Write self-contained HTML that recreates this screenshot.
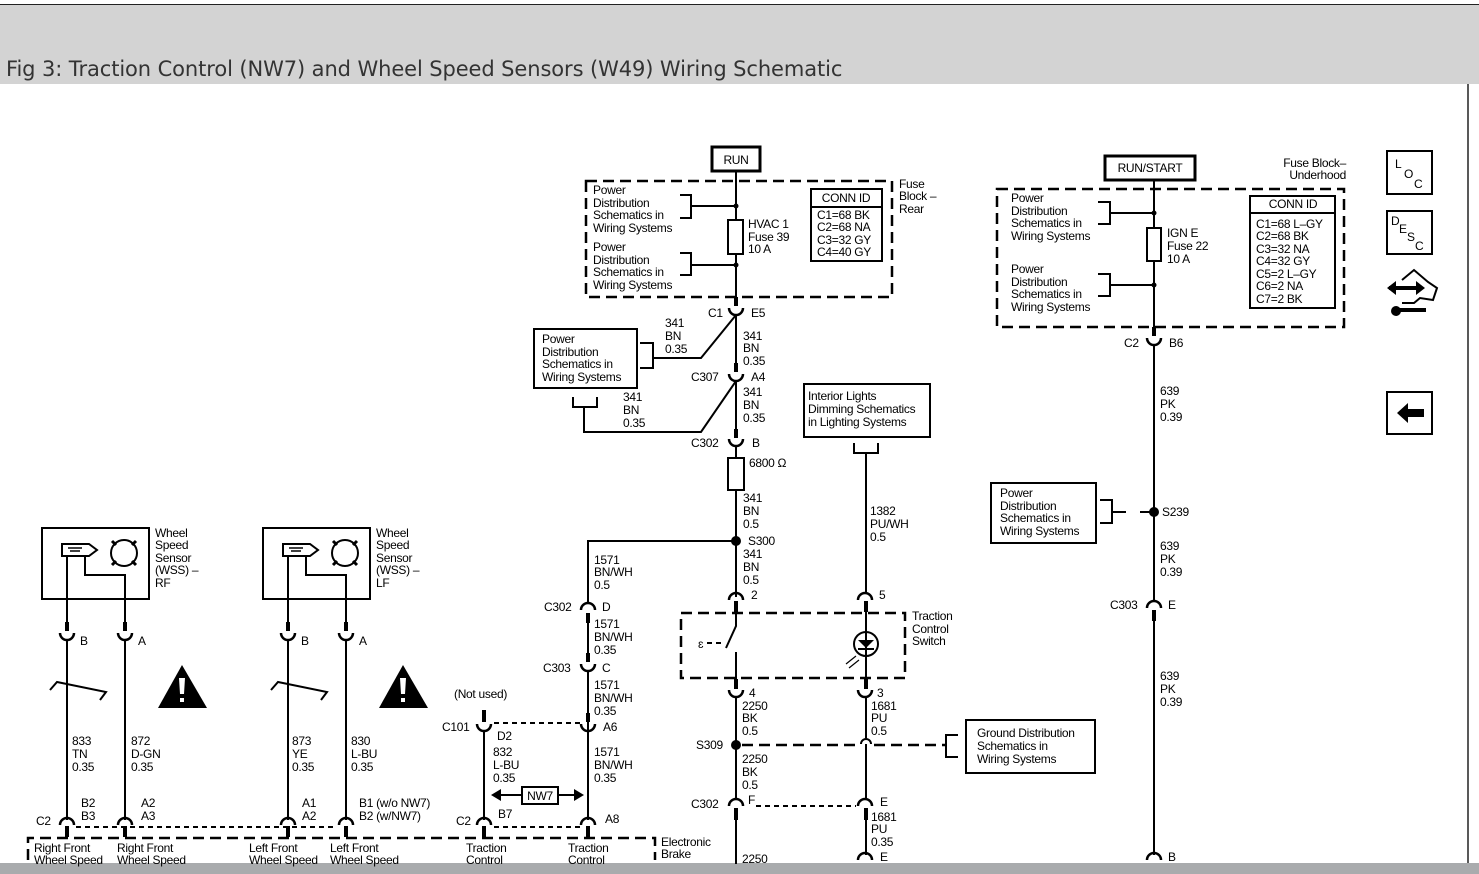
<!DOCTYPE html>
<html><head><meta charset="utf-8"><style>
body{margin:0;background:#fff;width:1479px;height:874px;overflow:hidden}
svg{display:block}
text{font-family:"Liberation Sans",Arial,sans-serif;font-size:12px;fill:#000;letter-spacing:-0.3px}
.t{font-family:"DejaVu Sans","Liberation Sans",sans-serif;font-size:21px;fill:#333;letter-spacing:-0.1px}
.w{stroke:#000;stroke-width:2;fill:none}
.d{stroke:#000;stroke-width:2.5;fill:none;stroke-dasharray:11 6}
.dt{stroke:#000;stroke-width:2;fill:none;stroke-dasharray:5 4}
.c{stroke:#000;stroke-width:2.5;fill:none}
.b{stroke:#000;stroke-width:2;fill:#fff}
</style></head><body>
<svg width="1479" height="874" viewBox="0 0 1479 874" xmlns="http://www.w3.org/2000/svg">
<rect x="0" y="4" width="1479" height="80" fill="#d3d3d3"/>
<line x1="0" y1="4.5" x2="1479" y2="4.5" stroke="#222" stroke-width="1"/>
<text x="6" y="76" class="t">Fig 3: Traction Control (NW7) and Wheel Speed Sensors (W49) Wiring Schematic</text>
<line x1="1468" y1="84" x2="1468" y2="864" stroke="#222" stroke-width="1.5"/>
<rect x="0" y="863" width="1479" height="11" fill="#a9abad"/>

<!-- ===== center RUN ===== -->
<rect x="712" y="147" width="48" height="24" fill="#fff" stroke="#000" stroke-width="3"/>
<text x="736" y="164" text-anchor="middle">RUN</text>
<line class="w" x1="736" y1="171" x2="736" y2="305"/>
<rect class="d" x="586" y="181" width="306" height="116"/>
<text x="593" y="194">Power</text><text x="593" y="207">Distribution</text><text x="593" y="219">Schematics in</text><text x="593" y="232">Wiring Systems</text>
<text x="593" y="251">Power</text><text x="593" y="264">Distribution</text><text x="593" y="276">Schematics in</text><text x="593" y="289">Wiring Systems</text>
<path class="w" d="M680 195H691V218H680M691 206H736"/><circle cx="736" cy="206" r="2.5"/>
<path class="w" d="M680 253H691V275H680M691 265H736"/><circle cx="736" cy="265" r="2.5"/>
<rect class="b" x="728" y="220" width="15" height="34"/>
<text x="748" y="228">HVAC 1</text><text x="748" y="241">Fuse 39</text><text x="748" y="253">10 A</text>
<rect class="b" x="811" y="189" width="71" height="72"/><line class="w" x1="811" y1="207" x2="882" y2="207"/>
<text x="846" y="202" text-anchor="middle">CONN ID</text>
<text x="817" y="219">C1=68 BK</text><text x="817" y="231">C2=68 NA</text><text x="817" y="244">C3=32 GY</text><text x="817" y="256">C4=40 GY</text>
<text x="899" y="188">Fuse</text><text x="899" y="200">Block –</text><text x="899" y="213">Rear</text>
<!-- C1 -->
<rect x="734" y="297" width="4" height="9"/>
<path class="c" d="M729 308A7 7 0 0 0 743 308"/>
<text x="708" y="317">C1</text><text x="751" y="317">E5</text>
<path class="w" d="M736 315L701 358H653"/>
<path class="w" d="M640 343H653V368H640"/>
<rect class="b" x="534" y="329" width="103" height="59"/>
<text x="542" y="343">Power</text><text x="542" y="356">Distribution</text><text x="542" y="368">Schematics in</text><text x="542" y="381">Wiring Systems</text>
<text x="665" y="327">341</text><text x="665" y="340">BN</text><text x="665" y="353">0.35</text>
<line class="w" x1="736" y1="315" x2="736" y2="372"/>
<text x="743" y="340">341</text><text x="743" y="352">BN</text><text x="743" y="365">0.35</text>
<rect x="734" y="363" width="4" height="9"/>
<path class="c" d="M729 374A7 7 0 0 0 743 374"/>
<text x="691" y="381">C307</text><text x="751" y="381">A4</text>
<path class="w" d="M736 381L701 432H584V407M573 397V407H597V397"/>
<text x="623" y="401">341</text><text x="623" y="414">BN</text><text x="623" y="427">0.35</text>
<line class="w" x1="736" y1="381" x2="736" y2="437"/>
<text x="743" y="396">341</text><text x="743" y="409">BN</text><text x="743" y="422">0.35</text>
<rect x="734" y="429" width="4" height="9"/>
<path class="c" d="M729 439A7 7 0 0 0 743 439"/>
<text x="691" y="447">C302</text><text x="752" y="447">B</text>
<line class="w" x1="736" y1="446" x2="736" y2="597"/>
<rect class="b" x="728" y="458" width="16" height="32"/>
<text x="749" y="467">6800 Ω</text>
<text x="743" y="502">341</text><text x="743" y="515">BN</text><text x="743" y="528">0.5</text>
<circle cx="736" cy="541" r="5"/><text x="748" y="545">S300</text>
<text x="743" y="558">341</text><text x="743" y="571">BN</text><text x="743" y="584">0.5</text>
<!-- 1571 branch -->
<path class="w" d="M736 541H588V604"/>
<text x="594" y="564">1571</text><text x="594" y="576">BN/WH</text><text x="594" y="589">0.5</text>
<path class="c" d="M581 610A7 7 0 0 1 595 610"/><rect x="586" y="613" width="4" height="10"/>
<text x="544" y="611">C302</text><text x="602" y="611">D</text>
<line class="w" x1="588" y1="613" x2="588" y2="662"/>
<text x="594" y="628">1571</text><text x="594" y="641">BN/WH</text><text x="594" y="654">0.35</text>
<rect x="586" y="653" width="4" height="9"/>
<path class="c" d="M581 664A7 7 0 0 0 595 664"/>
<text x="543" y="672">C303</text><text x="602" y="672">C</text>
<line class="w" x1="588" y1="671" x2="588" y2="820"/>
<text x="594" y="689">1571</text><text x="594" y="702">BN/WH</text><text x="594" y="715">0.35</text>
<rect x="586" y="713" width="4" height="9"/>
<path class="c" d="M581 724A7 7 0 0 0 595 724"/>
<text x="603" y="731">A6</text>
<text x="594" y="756">1571</text><text x="594" y="769">BN/WH</text><text x="594" y="782">0.35</text>
<path class="c" d="M581 825A7 7 0 0 1 595 825"/><rect x="586" y="826" width="4" height="11"/>
<text x="605" y="823">A8</text>
<!-- C101 -->
<rect x="482" y="710" width="4" height="12"/>
<path class="c" d="M477 724A7 7 0 0 0 491 724"/>
<line class="dt" x1="494" y1="723" x2="580" y2="723"/>
<text x="442" y="731">C101</text><text x="454" y="698">(Not used)</text><text x="497" y="740">D2</text>
<line class="w" x1="484" y1="731" x2="484" y2="820"/>
<text x="493" y="756">832</text><text x="493" y="769">L-BU</text><text x="493" y="782">0.35</text>
<rect class="b" x="522" y="787" width="36" height="17"/><text x="540" y="800" text-anchor="middle">NW7</text>
<path class="w" d="M497 795H522M558 795H578"/><path d="M491 795L501 789V801Z M584 795L574 789V801Z"/>
<path class="c" d="M477 825A7 7 0 0 1 491 825"/><rect x="482" y="826" width="4" height="11"/>
<text x="456" y="825">C2</text><text x="498" y="818">B7</text>
<line class="dt" x1="494" y1="827" x2="580" y2="827"/>
<!-- bottom dashed module -->
<path class="d" d="M28 860V838H655V860"/>
<text x="34" y="852">Right Front</text><text x="34" y="864">Wheel Speed</text>
<text x="117" y="852">Right Front</text><text x="117" y="864">Wheel Speed</text>
<text x="249" y="852">Left Front</text><text x="249" y="864">Wheel Speed</text>
<text x="330" y="852">Left Front</text><text x="330" y="864">Wheel Speed</text>
<text x="466" y="852">Traction</text><text x="466" y="864">Control</text>
<text x="568" y="852">Traction</text><text x="568" y="864">Control</text>
<text x="661" y="846">Electronic</text><text x="661" y="858">Brake</text>

<!-- ===== Wheel sensors ===== -->
<g id="rf">
<rect class="b" x="42" y="528" width="107" height="71"/>
<path class="w" d="M62 544H89L97 550L89 556H62Z" fill="#fff"/>
<path d="M68 548h14M70 551h10" stroke="#000" stroke-width="1.5"/>
<circle class="w" cx="124" cy="553" r="13"/>
<g stroke="#000" stroke-width="3" fill="none"><path d="M112 541l4 4M136 541l-4 4M112 565l4-4M136 565l-4-4"/></g>
<path class="w" d="M67 556V628M85 556V575H125V628"/>
<rect x="65" y="622" width="4" height="9"/><path class="c" d="M60 633A7 7 0 0 0 74 633"/>
<rect x="123" y="622" width="4" height="9"/><path class="c" d="M118 633A7 7 0 0 0 132 633"/>
<line class="w" x1="67" y1="640" x2="67" y2="820"/><line class="w" x1="125" y1="640" x2="125" y2="820"/>
<path class="w" d="M50 690L57 682L106 692L100 700"/>
<path d="M182 665L207 708H158Z"/><path d="M179 678h6l-1 16h-4Z M180 698h4v4h-4Z" fill="#fff"/>
<path class="c" d="M60 825A7 7 0 0 1 74 825"/><rect x="65" y="826" width="4" height="11"/>
<path class="c" d="M118 825A7 7 0 0 1 132 825"/><rect x="123" y="826" width="4" height="11"/>
</g>
<text x="155" y="537">Wheel</text><text x="155" y="549">Speed</text><text x="155" y="562">Sensor</text><text x="155" y="574">(WSS) –</text><text x="155" y="587">RF</text>
<text x="80" y="645">B</text><text x="138" y="645">A</text>
<text x="72" y="745">833</text><text x="72" y="758">TN</text><text x="72" y="771">0.35</text>
<text x="131" y="745">872</text><text x="131" y="758">D-GN</text><text x="131" y="771">0.35</text>
<text x="81" y="807">B2</text><text x="81" y="820">B3</text><text x="141" y="807">A2</text><text x="141" y="820">A3</text><text x="36" y="825">C2</text>
<use href="#rf" x="221"/>
<text x="376" y="537">Wheel</text><text x="376" y="549">Speed</text><text x="376" y="562">Sensor</text><text x="376" y="574">(WSS) –</text><text x="376" y="587">LF</text>
<text x="301" y="645">B</text><text x="359" y="645">A</text>
<text x="292" y="745">873</text><text x="292" y="758">YE</text><text x="292" y="771">0.35</text>
<text x="351" y="745">830</text><text x="351" y="758">L-BU</text><text x="351" y="771">0.35</text>
<text x="302" y="807">A1</text><text x="302" y="820">A2</text><text x="359" y="807">B1 (w/o NW7)</text><text x="359" y="820">B2 (w/NW7)</text>
<line class="dt" x1="76" y1="827" x2="337" y2="827"/>

<!-- ===== Traction switch ===== -->
<rect class="b" x="804" y="384" width="126" height="53"/>
<text x="808" y="400">Interior Lights</text><text x="808" y="413">Dimming Schematics</text><text x="808" y="426">in Lighting Systems</text>
<path class="w" d="M854 443V453H878V443M866 453V594"/>
<text x="870" y="515">1382</text><text x="870" y="528">PU/WH</text><text x="870" y="541">0.5</text>
<path class="c" d="M729 600A7 7 0 0 1 743 600"/><rect x="734" y="601" width="4" height="11"/>
<path class="c" d="M858 600A7 7 0 0 1 872 600"/><rect x="864" y="601" width="4" height="11"/>
<text x="751" y="599">2</text><text x="879" y="599">5</text>
<rect class="d" x="681" y="613" width="224" height="65"/>
<text x="912" y="620">Traction</text><text x="912" y="633">Control</text><text x="912" y="645">Switch</text>
<path class="w" d="M736 612V626L726 648M736 652V688"/>
<line class="dt" x1="707" y1="643" x2="725" y2="643"/><text x="698" y="648" font-size="13">ɛ</text>
<line class="w" x1="866" y1="612" x2="866" y2="688"/>
<circle class="w" cx="866" cy="644" r="12"/><path d="M858 640H874L866 648Z"/><line class="w" x1="858" y1="649" x2="874" y2="649"/>
<path d="M846 664L856 656M849 668L859 660" stroke="#000" stroke-width="1.2"/>
<rect x="734" y="679" width="4" height="10"/><path class="c" d="M729 690A7 7 0 0 0 743 690"/>
<rect x="864" y="679" width="4" height="10"/><path class="c" d="M858 690A7 7 0 0 0 872 690"/>
<text x="749" y="697">4</text><text x="877" y="697">3</text>
<line class="w" x1="736" y1="697" x2="736" y2="798"/><line class="w" x1="866" y1="697" x2="866" y2="740"/>
<path class="w" d="M861 744A5 5 0 0 1 871 744"/><line class="w" x1="866" y1="744" x2="866" y2="798"/>
<text x="742" y="710">2250</text><text x="742" y="722">BK</text><text x="742" y="735">0.5</text>
<text x="871" y="710">1681</text><text x="871" y="722">PU</text><text x="871" y="735">0.5</text>
<circle cx="736" cy="745" r="5"/><text x="696" y="749">S309</text>
<path class="d" d="M742 745H858M874 745H946"/>
<path class="w" d="M958 735H946V757H958"/>
<rect class="b" x="966" y="720" width="129" height="53"/>
<text x="977" y="737">Ground Distribution</text><text x="977" y="750">Schematics in</text><text x="977" y="763">Wiring Systems</text>
<text x="742" y="763">2250</text><text x="742" y="776">BK</text><text x="742" y="789">0.5</text>
<path class="c" d="M729 806A7 7 0 0 1 743 806"/><rect x="734" y="808" width="4" height="12"/>
<path class="c" d="M858 806A7 7 0 0 1 872 806"/><rect x="864" y="808" width="4" height="12"/>
<text x="691" y="808">C302</text><text x="748" y="804">F</text><text x="880" y="806">E</text>
<line class="dt" x1="756" y1="806" x2="856" y2="806"/>
<line class="w" x1="736" y1="818" x2="736" y2="864"/><line class="w" x1="866" y1="818" x2="866" y2="855"/>
<text x="871" y="821">1681</text><text x="871" y="833">PU</text><text x="871" y="846">0.35</text>
<path class="c" d="M858 860A7 7 0 0 1 872 860"/><text x="880" y="861">E</text>
<text x="742" y="863">2250</text>

<!-- ===== Right side ===== -->
<rect x="1105" y="156" width="90" height="24" fill="#fff" stroke="#000" stroke-width="3"/>
<text x="1150" y="172" text-anchor="middle">RUN/START</text>
<text x="1346" y="167" text-anchor="end">Fuse Block–</text><text x="1346" y="179" text-anchor="end">Underhood</text>
<rect class="d" x="997" y="189" width="347" height="138"/>
<line class="w" x1="1154" y1="180" x2="1154" y2="334"/>
<text x="1011" y="202">Power</text><text x="1011" y="215">Distribution</text><text x="1011" y="227">Schematics in</text><text x="1011" y="240">Wiring Systems</text>
<text x="1011" y="273">Power</text><text x="1011" y="286">Distribution</text><text x="1011" y="298">Schematics in</text><text x="1011" y="311">Wiring Systems</text>
<path class="w" d="M1098 202H1110V224H1098M1110 213H1154"/><circle cx="1154" cy="213" r="2.5"/>
<path class="w" d="M1098 274H1110V296H1098M1110 285H1154"/><circle cx="1154" cy="285" r="2.5"/>
<rect class="b" x="1147" y="228" width="14" height="33"/>
<text x="1167" y="237">IGN E</text><text x="1167" y="250">Fuse 22</text><text x="1167" y="263">10 A</text>
<rect class="b" x="1250" y="196" width="85" height="112"/><line class="w" x1="1250" y1="213" x2="1335" y2="213"/>
<text x="1293" y="208" text-anchor="middle">CONN ID</text>
<text x="1256" y="228">C1=68 L–GY</text><text x="1256" y="240">C2=68 BK</text><text x="1256" y="253">C3=32 NA</text><text x="1256" y="265">C4=32 GY</text><text x="1256" y="278">C5=2 L–GY</text><text x="1256" y="290">C6=2 NA</text><text x="1256" y="303">C7=2 BK</text>
<rect x="1152" y="327" width="4" height="9"/><path class="c" d="M1147 338A7 7 0 0 0 1161 338"/>
<text x="1124" y="347">C2</text><text x="1169" y="347">B6</text>
<line class="w" x1="1154" y1="345" x2="1154" y2="601"/>
<text x="1160" y="395">639</text><text x="1160" y="408">PK</text><text x="1160" y="421">0.39</text>
<circle cx="1154" cy="512" r="5"/><text x="1162" y="516">S239</text>
<path class="w" d="M1112 512H1126M1140 512H1154"/><path class="w" d="M1100 500H1112V523H1100"/>
<rect class="b" x="991" y="483" width="105" height="60"/>
<text x="1000" y="497">Power</text><text x="1000" y="510">Distribution</text><text x="1000" y="522">Schematics in</text><text x="1000" y="535">Wiring Systems</text>
<text x="1160" y="550">639</text><text x="1160" y="563">PK</text><text x="1160" y="576">0.39</text>
<path class="c" d="M1147 608A7 7 0 0 1 1161 608"/><rect x="1152" y="610" width="4" height="11"/>
<text x="1110" y="609">C303</text><text x="1168" y="609">E</text>
<line class="w" x1="1154" y1="618" x2="1154" y2="855"/>
<text x="1160" y="680">639</text><text x="1160" y="693">PK</text><text x="1160" y="706">0.39</text>
<path class="c" d="M1147 860A7 7 0 0 1 1161 860"/><text x="1168" y="861">B</text>

<!-- icons -->
<rect class="b" x="1387" y="151" width="45" height="43"/>
<text x="1395" y="168">L</text><text x="1404" y="178">O</text><text x="1414" y="188">C</text>
<rect class="b" x="1387" y="211" width="45" height="43"/>
<text x="1391" y="225">D</text><text x="1399" y="233">E</text><text x="1407" y="241">S</text><text x="1415" y="250">C</text>
<path class="w" d="M1402 280L1414 270L1428 282L1437 288L1433 300L1420 298L1414 303H1402" stroke-width="2.5"/>
<path d="M1389 288H1420" stroke="#000" stroke-width="4"/><path d="M1387 288L1396 281V295Z M1425 288L1416 281V295Z"/>
<path d="M1395 310H1426" stroke="#000" stroke-width="4"/><circle cx="1396" cy="311" r="5"/>
<rect class="b" x="1387" y="392" width="45" height="42"/>
<path d="M1397 413L1408 403V409H1424V417H1408V423Z"/>
</svg>
</body></html>
